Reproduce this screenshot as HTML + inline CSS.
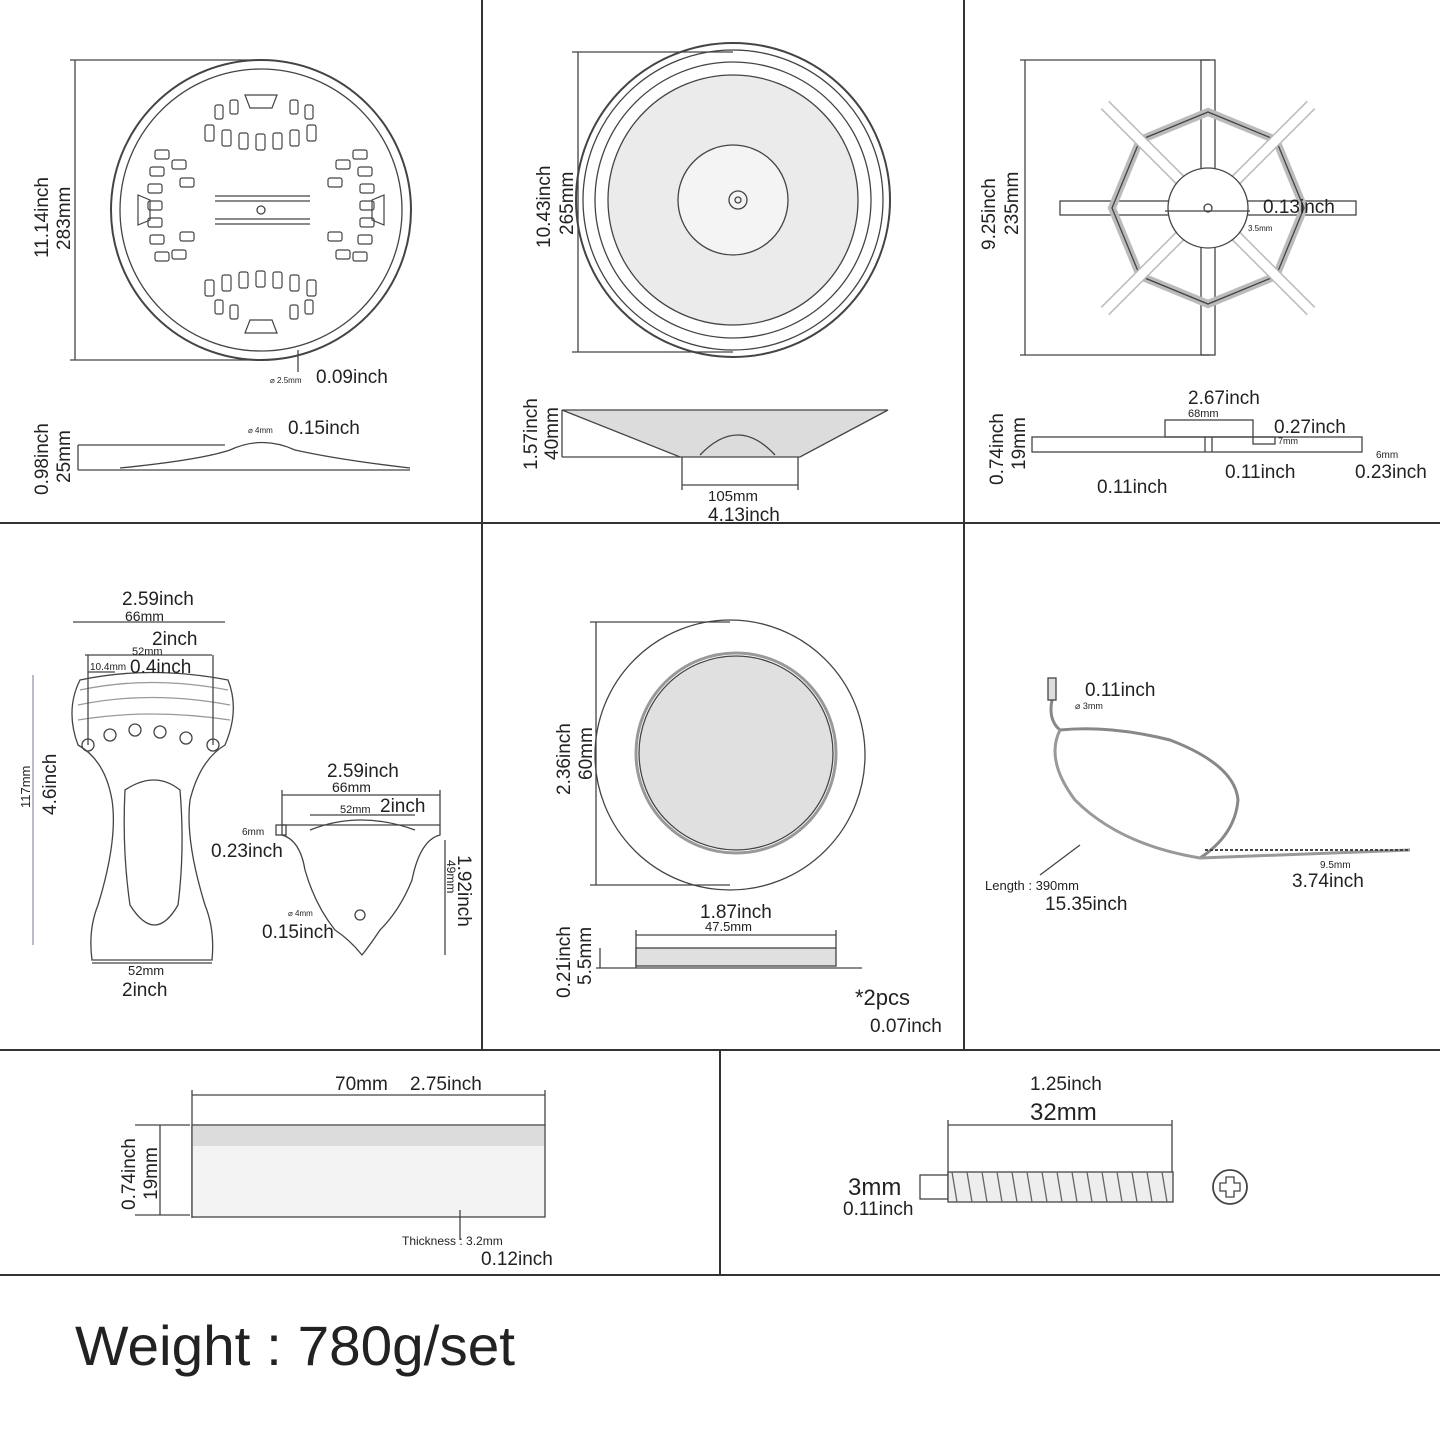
<!DOCTYPE html>
<html><head><meta charset="utf-8"><style>
html,body{margin:0;padding:0;background:#fff;}
svg{display:block;font-family:"Liberation Sans",sans-serif;}
</style></head><body>
<svg width="1440" height="1440" viewBox="0 0 1440 1440" xmlns="http://www.w3.org/2000/svg">
<rect width="1440" height="1440" fill="#fff"/>
<g stroke="#333" stroke-width="2">
<line x1="0" y1="523" x2="1440" y2="523"/>
<line x1="0" y1="1050" x2="1440" y2="1050"/>
<line x1="0" y1="1275" x2="1440" y2="1275"/>
<line x1="482" y1="0" x2="482" y2="1050"/>
<line x1="964" y1="0" x2="964" y2="1050"/>
<line x1="720" y1="1050" x2="720" y2="1275"/>
</g>
<g fill="none" stroke="#444" stroke-width="1.3">
<line x1="75" y1="60" x2="75" y2="360"/>
<line x1="70" y1="60" x2="260" y2="60"/>
<line x1="70" y1="360" x2="260" y2="360"/>
<circle cx="261" cy="210" r="150" stroke-width="2"/>
<circle cx="261" cy="210" r="141"/>
<line x1="215" y1="196" x2="310" y2="196"/><line x1="215" y1="201" x2="310" y2="201"/>
<line x1="215" y1="219" x2="310" y2="219"/><line x1="215" y1="224" x2="310" y2="224"/>
<circle cx="261" cy="210" r="4"/>
<g stroke-width="1.2">
<rect x="205" y="125" width="9" height="16" rx="2"/><rect x="222" y="130" width="9" height="16" rx="2"/><rect x="239" y="133" width="9" height="16" rx="2"/><rect x="256" y="134" width="9" height="16" rx="2"/><rect x="273" y="133" width="9" height="16" rx="2"/><rect x="290" y="130" width="9" height="16" rx="2"/><rect x="307" y="125" width="9" height="16" rx="2"/>
<rect x="215" y="105" width="8" height="14" rx="2"/><rect x="230" y="100" width="8" height="14" rx="2"/><rect x="290" y="100" width="8" height="14" rx="2"/><rect x="305" y="105" width="8" height="14" rx="2"/>
<path d="M245 95 L277 95 L272 108 L250 108 Z"/>
<rect x="205" y="280" width="9" height="16" rx="2"/><rect x="222" y="275" width="9" height="16" rx="2"/><rect x="239" y="272" width="9" height="16" rx="2"/><rect x="256" y="271" width="9" height="16" rx="2"/><rect x="273" y="272" width="9" height="16" rx="2"/><rect x="290" y="275" width="9" height="16" rx="2"/><rect x="307" y="280" width="9" height="16" rx="2"/>
<rect x="215" y="300" width="8" height="14" rx="2"/><rect x="230" y="305" width="8" height="14" rx="2"/><rect x="290" y="305" width="8" height="14" rx="2"/><rect x="305" y="300" width="8" height="14" rx="2"/>
<path d="M250 320 L272 320 L277 333 L245 333 Z"/>
<rect x="155" y="150" width="14" height="9" rx="2"/><rect x="150" y="167" width="14" height="9" rx="2"/><rect x="148" y="184" width="14" height="9" rx="2"/><rect x="148" y="201" width="14" height="9" rx="2"/><rect x="148" y="218" width="14" height="9" rx="2"/><rect x="150" y="235" width="14" height="9" rx="2"/><rect x="155" y="252" width="14" height="9" rx="2"/>
<rect x="172" y="160" width="14" height="9" rx="2"/><rect x="180" y="178" width="14" height="9" rx="2"/><rect x="180" y="232" width="14" height="9" rx="2"/><rect x="172" y="250" width="14" height="9" rx="2"/>
<path d="M138 195 L150 200 L150 220 L138 225 Z"/>
<rect x="353" y="150" width="14" height="9" rx="2"/><rect x="358" y="167" width="14" height="9" rx="2"/><rect x="360" y="184" width="14" height="9" rx="2"/><rect x="360" y="201" width="14" height="9" rx="2"/><rect x="360" y="218" width="14" height="9" rx="2"/><rect x="358" y="235" width="14" height="9" rx="2"/><rect x="353" y="252" width="14" height="9" rx="2"/>
<rect x="336" y="160" width="14" height="9" rx="2"/><rect x="328" y="178" width="14" height="9" rx="2"/><rect x="328" y="232" width="14" height="9" rx="2"/><rect x="336" y="250" width="14" height="9" rx="2"/>
<path d="M384 195 L372 200 L372 220 L384 225 Z"/>
</g>
<line x1="298" y1="350" x2="298" y2="372"/>
<line x1="78" y1="445" x2="78" y2="470"/>
<line x1="78" y1="445" x2="225" y2="445"/>
<line x1="78" y1="470" x2="410" y2="470"/>
<path d="M120 468 Q200 460 230 450 Q262 435 295 450 Q340 460 410 468"/>
<line x1="578" y1="52" x2="578" y2="352"/>
<line x1="572" y1="52" x2="733" y2="52"/><line x1="572" y1="352" x2="733" y2="352"/>
<circle cx="733" cy="200" r="157" stroke-width="2"/>
<circle cx="733" cy="200" r="150"/>
<circle cx="733" cy="200" r="138"/>
<circle cx="733" cy="200" r="125" fill="#ebebeb"/>
<circle cx="733" cy="200" r="55" fill="#f4f4f4"/>
<circle cx="738" cy="200" r="9"/><circle cx="738" cy="200" r="3"/>
<path d="M562 410 L888 410 L800 457 L680 457 Z" fill="#dcdcdc"/>
<path d="M700 455 Q738 415 775 455"/>
<line x1="562" y1="410" x2="562" y2="457"/><line x1="562" y1="457" x2="680" y2="457"/>
<line x1="682" y1="457" x2="682" y2="490"/><line x1="798" y1="457" x2="798" y2="490"/>
<line x1="682" y1="485" x2="798" y2="485"/>
<line x1="1025" y1="60" x2="1025" y2="355"/>
<line x1="1020" y1="60" x2="1210" y2="60"/><line x1="1020" y1="355" x2="1210" y2="355"/>
<rect x="1201" y="60" width="14" height="295"/>
<rect x="1060" y="201" width="296" height="14"/>
<polygon points="1208,112 1276,140 1304,208 1276,276 1208,304 1140,276 1112,208 1140,140" stroke-width="8" stroke="#bbb"/>
<polygon points="1208,112 1276,140 1304,208 1276,276 1208,304 1140,276 1112,208 1140,140"/>
<line x1="1105" y1="105" x2="1240" y2="240" stroke-width="12" stroke="#bbb"/>
<line x1="1311" y1="105" x2="1176" y2="240" stroke-width="12" stroke="#bbb"/>
<line x1="1105" y1="311" x2="1240" y2="176" stroke-width="12" stroke="#bbb"/>
<line x1="1311" y1="311" x2="1176" y2="176" stroke-width="12" stroke="#bbb"/>
<line x1="1105" y1="105" x2="1311" y2="311" stroke-width="9" stroke="#fff"/>
<line x1="1311" y1="105" x2="1105" y2="311" stroke-width="9" stroke="#fff"/>
<circle cx="1208" cy="208" r="40" fill="#fff"/>
<circle cx="1208" cy="208" r="4"/>
<line x1="1165" y1="211" x2="1250" y2="211"/>
<rect x="1032" y="437" width="330" height="15"/>
<rect x="1165" y="420" width="88" height="17"/>
<rect x="1253" y="437" width="22" height="7"/>
<line x1="1205" y1="437" x2="1205" y2="452"/><line x1="1212" y1="437" x2="1212" y2="452"/>
<line x1="73" y1="622" x2="225" y2="622"/>
<line x1="85" y1="655" x2="212" y2="655"/>
<line x1="88" y1="672" x2="115" y2="672"/>
<line x1="33" y1="675" x2="33" y2="945" stroke="#99a"/>
<path d="M80 680 Q150 665 228 680 Q240 710 225 745 Q200 760 190 800 Q185 840 205 905 Q215 930 212 960 L92 960 Q88 930 98 905 Q118 840 112 800 Q105 760 78 745 Q65 710 80 680 Z"/>
<path d="M125 790 Q155 770 180 790 Q185 850 178 905 Q155 945 130 905 Q122 850 125 790 Z"/>
<path d="M80 690 Q150 675 228 690 M78 705 Q150 690 230 705 M78 720 Q150 708 230 720" stroke="#999"/>
<circle cx="88" cy="745" r="6"/><circle cx="110" cy="735" r="6"/><circle cx="135" cy="730" r="6"/><circle cx="160" cy="732" r="6"/><circle cx="186" cy="738" r="6"/><circle cx="213" cy="745" r="6"/>
<line x1="88" y1="655" x2="88" y2="745"/><line x1="213" y1="655" x2="213" y2="745"/>
<line x1="92" y1="963" x2="212" y2="963"/>
<path d="M282 825 L440 825 L440 835 Q420 840 412 880 Q400 910 380 930 Q370 945 362 955 Q350 940 335 930 Q315 905 305 870 Q300 840 282 835 Z"/>
<rect x="276" y="825" width="10" height="10"/>
<path d="M310 830 Q360 810 415 830" />
<line x1="282" y1="795" x2="440" y2="795"/><line x1="282" y1="790" x2="282" y2="825"/><line x1="440" y1="790" x2="440" y2="825"/>
<line x1="310" y1="815" x2="415" y2="815"/>
<line x1="445" y1="840" x2="445" y2="955"/>
<circle cx="360" cy="915" r="5"/>
<line x1="596" y1="622" x2="596" y2="885"/>
<line x1="590" y1="622" x2="730" y2="622"/><line x1="590" y1="885" x2="730" y2="885"/>
<circle cx="730" cy="755" r="135"/>
<circle cx="736" cy="753" r="100" stroke-width="3" stroke="#999"/>
<circle cx="736" cy="753" r="97" fill="#e0e0e0"/>
<line x1="636" y1="935" x2="836" y2="935"/>
<line x1="636" y1="930" x2="636" y2="968"/><line x1="836" y1="930" x2="836" y2="948"/>
<rect x="636" y="948" width="200" height="18" fill="#e0e0e0"/>
<line x1="596" y1="968" x2="862" y2="968"/>
<line x1="600" y1="948" x2="600" y2="968"/>
<path d="M1052 700 Q1048 720 1060 730 Q1110 725 1170 740 Q1235 765 1238 800 Q1235 835 1200 858" stroke="#888" stroke-width="3"/>
<path d="M1060 730 Q1045 760 1075 800 Q1120 845 1200 858 L1410 850" stroke="#999" stroke-width="3"/>
<rect x="1048" y="678" width="8" height="22" fill="#ddd"/>
<line x1="1205" y1="850" x2="1410" y2="850" stroke-dasharray="3 2" stroke-width="2"/>
<line x1="1040" y1="875" x2="1080" y2="845"/>
<line x1="192" y1="1095" x2="545" y2="1095"/>
<line x1="192" y1="1090" x2="192" y2="1218"/><line x1="545" y1="1090" x2="545" y2="1125"/>
<line x1="135" y1="1125" x2="190" y2="1125"/><line x1="135" y1="1215" x2="190" y2="1215"/>
<line x1="160" y1="1125" x2="160" y2="1215"/>
<rect x="192" y="1125" width="353" height="92" fill="#f3f3f3"/>
<rect x="193" y="1126" width="351" height="20" fill="#dcdcdc" stroke="none"/>
<line x1="460" y1="1210" x2="460" y2="1240"/>
<line x1="948" y1="1125" x2="1172" y2="1125"/>
<line x1="948" y1="1120" x2="948" y2="1175"/><line x1="1172" y1="1120" x2="1172" y2="1175"/>
<rect x="920" y="1175" width="28" height="24"/>
<rect x="948" y="1172" width="225" height="30" fill="#eee"/>
<path d="M952 1172 l5 30 m10 -30 l5 30 m10 -30 l5 30 m10 -30 l5 30 m10 -30 l5 30 m10 -30 l5 30 m10 -30 l5 30 m10 -30 l5 30 m10 -30 l5 30 m10 -30 l5 30 m10 -30 l5 30 m10 -30 l5 30 m10 -30 l5 30 m10 -30 l5 30 m10 -30 l5 30" stroke="#666"/>
<circle cx="1230" cy="1187" r="17" stroke-width="1.8"/>
<path d="M1226 1177 h8 v6 h6 v8 h-6 v6 h-8 v-6 h-6 v-8 h6 z"/>
</g>
<g fill="#222" font-size="19">
<text transform="translate(48,258) rotate(-90)">11.14inch</text>
<text transform="translate(70,250) rotate(-90)">283mm</text>
<text x="316" y="383">0.09inch</text><text x="270" y="383" font-size="8">⌀ 2.5mm</text>
<text transform="translate(48,495) rotate(-90)">0.98inch</text>
<text transform="translate(70,483) rotate(-90)">25mm</text>
<text x="288" y="434">0.15inch</text><text x="248" y="433" font-size="8">⌀ 4mm</text>
<text transform="translate(550,248) rotate(-90)">10.43inch</text>
<text transform="translate(573,235) rotate(-90)">265mm</text>
<text transform="translate(537,470) rotate(-90)">1.57inch</text>
<text transform="translate(558,460) rotate(-90)">40mm</text>
<text x="708" y="501" font-size="15">105mm</text>
<text x="708" y="521">4.13inch</text>
<text transform="translate(995,250) rotate(-90)">9.25inch</text>
<text transform="translate(1018,235) rotate(-90)">235mm</text>
<text x="1263" y="213">0.13inch</text><text x="1248" y="231" font-size="8">3.5mm</text>
<text x="1188" y="404">2.67inch</text><text x="1188" y="417" font-size="11">68mm</text>
<text x="1274" y="433">0.27inch</text><text x="1278" y="444" font-size="9">7mm</text>
<text x="1376" y="458" font-size="10">6mm</text>
<text x="1355" y="478">0.23inch</text>
<text x="1225" y="478">0.11inch</text>
<text x="1097" y="493">0.11inch</text>
<text transform="translate(1003,485) rotate(-90)">0.74inch</text>
<text transform="translate(1025,470) rotate(-90)">19mm</text>
<text x="122" y="605">2.59inch</text><text x="125" y="621" font-size="14">66mm</text>
<text x="152" y="645">2inch</text><text x="132" y="655" font-size="11">52mm</text>
<text x="130" y="673">0.4inch</text><text x="90" y="670" font-size="10">10.4mm</text>
<text transform="translate(56,815) rotate(-90)">4.6inch</text>
<text transform="translate(30,808) rotate(-90)" font-size="13">117mm</text>
<text x="128" y="975" font-size="13">52mm</text><text x="122" y="996">2inch</text>
<text x="327" y="777">2.59inch</text><text x="332" y="792" font-size="14">66mm</text>
<text x="380" y="812">2inch</text><text x="340" y="813" font-size="11">52mm</text>
<text x="242" y="835" font-size="10">6mm</text><text x="211" y="857">0.23inch</text>
<text transform="translate(458,855) rotate(90)">1.92inch</text>
<text transform="translate(447,860) rotate(90)" font-size="12">49mm</text>
<text x="288" y="916" font-size="8">⌀ 4mm</text><text x="262" y="938">0.15inch</text>
<text transform="translate(570,795) rotate(-90)">2.36inch</text>
<text transform="translate(592,780) rotate(-90)">60mm</text>
<text x="700" y="918">1.87inch</text><text x="705" y="931" font-size="13">47.5mm</text>
<text transform="translate(570,998) rotate(-90)">0.21inch</text>
<text transform="translate(591,985) rotate(-90)">5.5mm</text>
<text x="855" y="1005" font-size="22">*2pcs</text>
<text x="870" y="1032">0.07inch</text>
<text x="1085" y="696">0.11inch</text><text x="1075" y="709" font-size="9">⌀ 3mm</text>
<text x="985" y="890" font-size="13">Length : 390mm</text>
<text x="1045" y="910">15.35inch</text>
<text x="1320" y="868" font-size="10">9.5mm</text>
<text x="1292" y="887">3.74inch</text>
<text x="335" y="1090">70mm</text><text x="410" y="1090">2.75inch</text>
<text transform="translate(135,1210) rotate(-90)">0.74inch</text>
<text transform="translate(157,1200) rotate(-90)">19mm</text>
<text x="402" y="1245" font-size="12">Thickness : 3.2mm</text>
<text x="481" y="1265">0.12inch</text>
<text x="1030" y="1090">1.25inch</text>
<text x="1030" y="1120" font-size="24">32mm</text>
<text x="848" y="1195" font-size="24">3mm</text>
<text x="843" y="1215">0.11inch</text>
<text x="75" y="1365" font-size="56" textLength="440" lengthAdjust="spacingAndGlyphs">Weight : 780g/set</text>
</g>
</svg>
</body></html>
